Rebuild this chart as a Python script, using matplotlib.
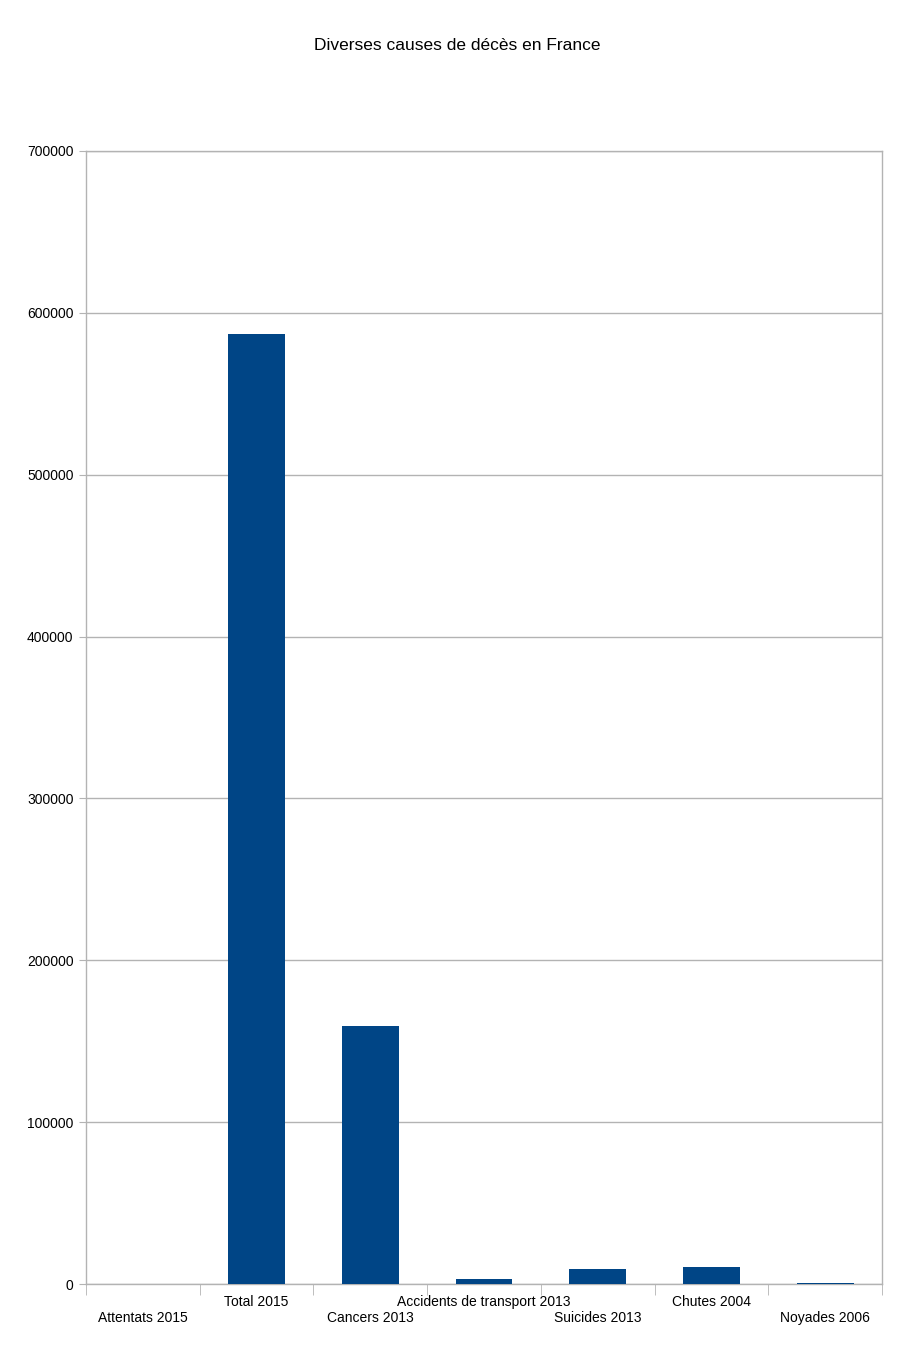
import numpy as np
import matplotlib.pyplot as plt
from matplotlib.ticker import FixedLocator

# data
categories = ['Attentats 2015', 'Total 2015', 'Cancers 2013',
              'Accidents de transport 2013', 'Suicides 2013',
              'Chutes 2004', 'Noyades 2006']
deaths = [150, 587000, 159500, 3100, 9400, 10400, 900]
yticks = [0, 100000, 200000, 300000, 400000, 500000, 600000, 700000]

plt.rcParams['font.family'] = ['Liberation Sans', 'DejaVu Sans']
grey = '#b3b3b3'

fig = plt.figure(figsize=(9.14, 13.62), dpi=100)
ax = fig.add_axes([86/914, 1 - 1284/1362, 796/914, 1133/1362])

x = np.arange(len(categories))
ax.bar(x, deaths, width=0.5, color='#004586', zorder=3)

ax.set_xlim(-0.5, len(categories) - 0.5)
ax.set_ylim(0, 700000)
ax.set_yticks(yticks)
ax.set_yticklabels([str(v) for v in yticks], fontsize=10)
ax.yaxis.grid(True, color=grey, linewidth=1, zorder=0)

# staggered labels, centred under each bar
labels = [('\n' + c) if i % 2 == 0 else c for i, c in enumerate(categories)]
ax.set_xticks(x)
ax.set_xticklabels(labels, fontsize=10, linespacing=1.15)
ax.tick_params(axis='x', which='major', length=0, pad=8)
ax.xaxis.set_minor_locator(FixedLocator(np.arange(len(categories) + 1) - 0.5))
ax.tick_params(axis='x', which='minor', length=8, color=grey, direction='out')
ax.tick_params(axis='y', length=5, color=grey, pad=4)

for s in ax.spines.values():
    s.set_color(grey)
    s.set_linewidth(1)

fig.text(0.5, 1 - 45/1362, 'Diverses causes de décès en France',
         ha='center', va='center', fontsize=12.5)

fig.savefig('out.png', dpi=100, facecolor='white')
